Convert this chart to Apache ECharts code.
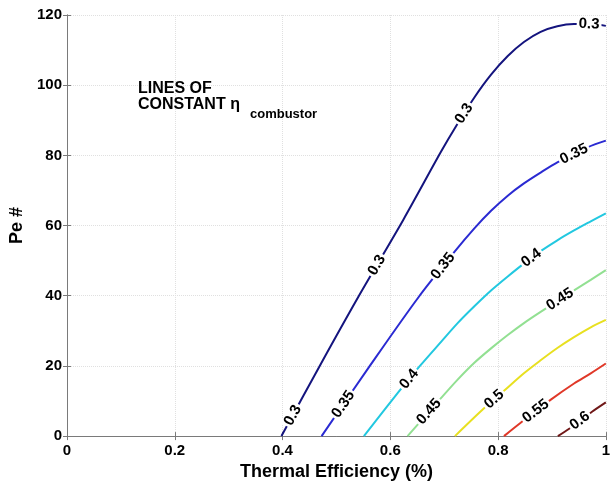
<!DOCTYPE html>
<html>
<head>
<meta charset="utf-8">
<script src="https://cdn.jsdelivr.net/npm/echarts@6/dist/echarts.min.js"></script>
<style>
html,body{margin:0;padding:0;background:#fff;}
#chart{width:613px;height:486px;}
</style>
</head>
<body>
<div id="chart"></div>
<script>
// ---- data ----
const levels = ['0.3', '0.35', '0.4', '0.45', '0.5', '0.55', '0.6'];

const curve030 = [[0.398,0],[0.469,20],[0.540,39.5],[0.624,61.6],[0.694,81],[0.722,88.3],[0.756,96.5],[0.787,103],[0.818,108.3],[0.848,112.3],[0.879,115.2],[0.910,116.8],[0.941,117.4],[0.972,117.4],[1.0,116.9]];
const curve035 = [[0.4725,0],[0.562,20],[0.652,39.5],[0.719,52.5],[0.756,59.2],[0.787,64.2],[0.818,68.5],[0.848,72],[0.879,75.1],[0.910,78],[0.966,82.3],[1.0,84.2]];
const curve040 = [[0.551,0],[0.615,12.5],[0.655,20],[0.695,27],[0.725,32.2],[0.756,37],[0.787,41.5],[0.818,45.5],[0.849,49.3],[0.879,52.7],[0.910,55.8],[0.941,58.6],[0.972,61.2],[1.0,63.5]];
const curve045 = [[0.632,0],[0.694,10.8],[0.725,16.1],[0.756,20.9],[0.787,25],[0.818,28.8],[0.848,32.2],[0.879,35.4],[0.941,41.5],[0.972,44.5],[1.0,47.3]];
const curve050 = [[0.72,0],[0.771,7.5],[0.811,12.9],[0.848,17.9],[0.879,21.6],[0.910,25.1],[0.941,28.2],[0.972,31],[1.0,33.1]];
const curve055 = [[0.811,0],[0.842,3.8],[0.898,10.4],[0.941,15],[0.972,17.9],[1.0,20.7]];
const curve060 = [[0.911,0],[0.932,2.1],[0.975,7],[1.0,9.6]];

const curves = [curve030, curve035, curve040, curve045, curve050, curve055, curve060];

// contour label positions: [x, level index]
const contourLabels = [
  [0.419,0],[0.575,0],[0.737,0],[0.969,0],
  [0.513,1],[0.698,1],[0.941,1],
  [0.635,2],[0.862,2],
  [0.672,3],[0.915,3],
  [0.793,4],
  [0.870,5],
  [0.952,6]
];

const xTicks = [0, 0.2, 0.4, 0.6, 0.8, 1];
const yTicks = [0, 20, 40, 60, 80, 100, 120];

// ---- styles ----
const lineColors = ['#14147e', '#2a2ad2', '#22c8e0', '#92e092', '#e8e020', '#e03828', '#701818'];
const FONT = '"Liberation Sans", Arial, Helvetica, sans-serif';

function interp(pts, x) {
  let i = 0;
  while (i < pts.length - 2 && x > pts[i + 1][0]) i++;
  const a = pts[i], b = pts[i + 1];
  const t = (x - a[0]) / (b[0] - a[0]);
  return a[1] + t * (b[1] - a[1]);
}

const chart = echarts.init(document.getElementById('chart'), null, {renderer: 'canvas'});

const axisLineStyle = {color: '#7a7a7a', width: 1};

const series = curves.map((c, i) => ({
  type: 'line',
  name: levels[i],
  data: c,
  smooth: 0.3,
  showSymbol: false,
  symbol: 'none',
  lineStyle: {color: lineColors[i], width: 2},
  z: 2,
  silent: true
}));

series.push({
  type: 'custom',
  coordinateSystem: 'cartesian2d',
  data: contourLabels.map(l => [l[0], interp(curves[l[1]], l[0]), l[1]]),
  z: 5,
  clip: false,
  silent: true,
  renderItem: function (params, api) {
    const x = api.value(0);
    const li = api.value(2);
    const pts = curves[li];
    const y = interp(pts, x);
    const c = api.coord([x, y]);
    const d = 0.012;
    const a = api.coord([x - d, interp(pts, x - d)]);
    const b = api.coord([x + d, interp(pts, x + d)]);
    const ang = Math.atan2(-(b[1] - a[1]), b[0] - a[0]);
    return {
      type: 'text',
      x: c[0],
      y: c[1],
      rotation: ang,
      style: {
        text: levels[li],
        fill: '#000',
        font: 'bold 15px ' + FONT,
        align: 'center',
        verticalAlign: 'middle',
        backgroundColor: '#fff',
        padding: [0, 2]
      }
    };
  }
});

const option = {
  backgroundColor: '#fff',
  animation: false,
  grid: {left: 67, top: 15, width: 539, height: 425, containLabel: false},
  xAxis: [{
    type: 'value', min: xTicks[0], max: xTicks[xTicks.length - 1], interval: xTicks[1] - xTicks[0],
    position: 'bottom',
    name: 'Thermal Efficiency (%)', nameLocation: 'middle', nameGap: 24,
    nameTextStyle: {color: '#000', fontWeight: 'bold', fontSize: 18, fontFamily: FONT},
    axisLine: {show: true, lineStyle: axisLineStyle},
    axisTick: {show: true, inside: true, length: 4, lineStyle: axisLineStyle},
    axisLabel: {color: '#000', fontWeight: 'bold', fontSize: 15, fontFamily: FONT, margin: 7,
      formatter: v => String(Math.round(v * 10) / 10)},
    splitLine: {show: true, lineStyle: {color: '#e0e0e0', type: 'dotted', width: 1}}
  }, {
    type: 'value', min: xTicks[0], max: xTicks[xTicks.length - 1], interval: xTicks[1] - xTicks[0],
    position: 'top',
    axisLine: {show: true, lineStyle: axisLineStyle},
    axisTick: {show: true, inside: true, length: 4, lineStyle: axisLineStyle},
    axisLabel: {show: false},
    splitLine: {show: false}
  }],
  yAxis: [{
    type: 'value', min: yTicks[0], max: yTicks[yTicks.length - 1], interval: yTicks[1] - yTicks[0],
    position: 'left',
    name: 'Pe #', nameLocation: 'middle', nameGap: 36,
    nameTextStyle: {color: '#000', fontWeight: 'bold', fontSize: 18, fontFamily: FONT},
    axisLine: {show: true, lineStyle: axisLineStyle},
    axisTick: {show: true, inside: true, length: 4, lineStyle: axisLineStyle},
    axisLabel: {color: '#000', fontWeight: 'bold', fontSize: 15, fontFamily: FONT, margin: 5},
    splitLine: {show: true, lineStyle: {color: '#e0e0e0', type: 'dotted', width: 1}}
  }, {
    type: 'value', min: yTicks[0], max: yTicks[yTicks.length - 1], interval: yTicks[1] - yTicks[0],
    position: 'right',
    axisLine: {show: true, lineStyle: axisLineStyle},
    axisTick: {show: true, inside: true, length: 4, lineStyle: axisLineStyle},
    axisLabel: {show: false},
    splitLine: {show: false}
  }],
  graphic: [
    {type: 'text', x: 138, y: 88.5, z: 10, style: {text: 'LINES OF', font: 'bold 16px ' + FONT, fill: '#000', verticalAlign: 'middle'}},
    {type: 'text', x: 138, y: 105, z: 10, style: {text: 'CONSTANT η', font: 'bold 16px ' + FONT, fill: '#000', verticalAlign: 'middle'}},
    {type: 'text', x: 250, y: 114.5, z: 10, style: {text: 'combustor', font: 'bold 13px ' + FONT, fill: '#000', verticalAlign: 'middle'}}
  ],
  series: series
};

chart.setOption(option);
</script>
</body>
</html>
